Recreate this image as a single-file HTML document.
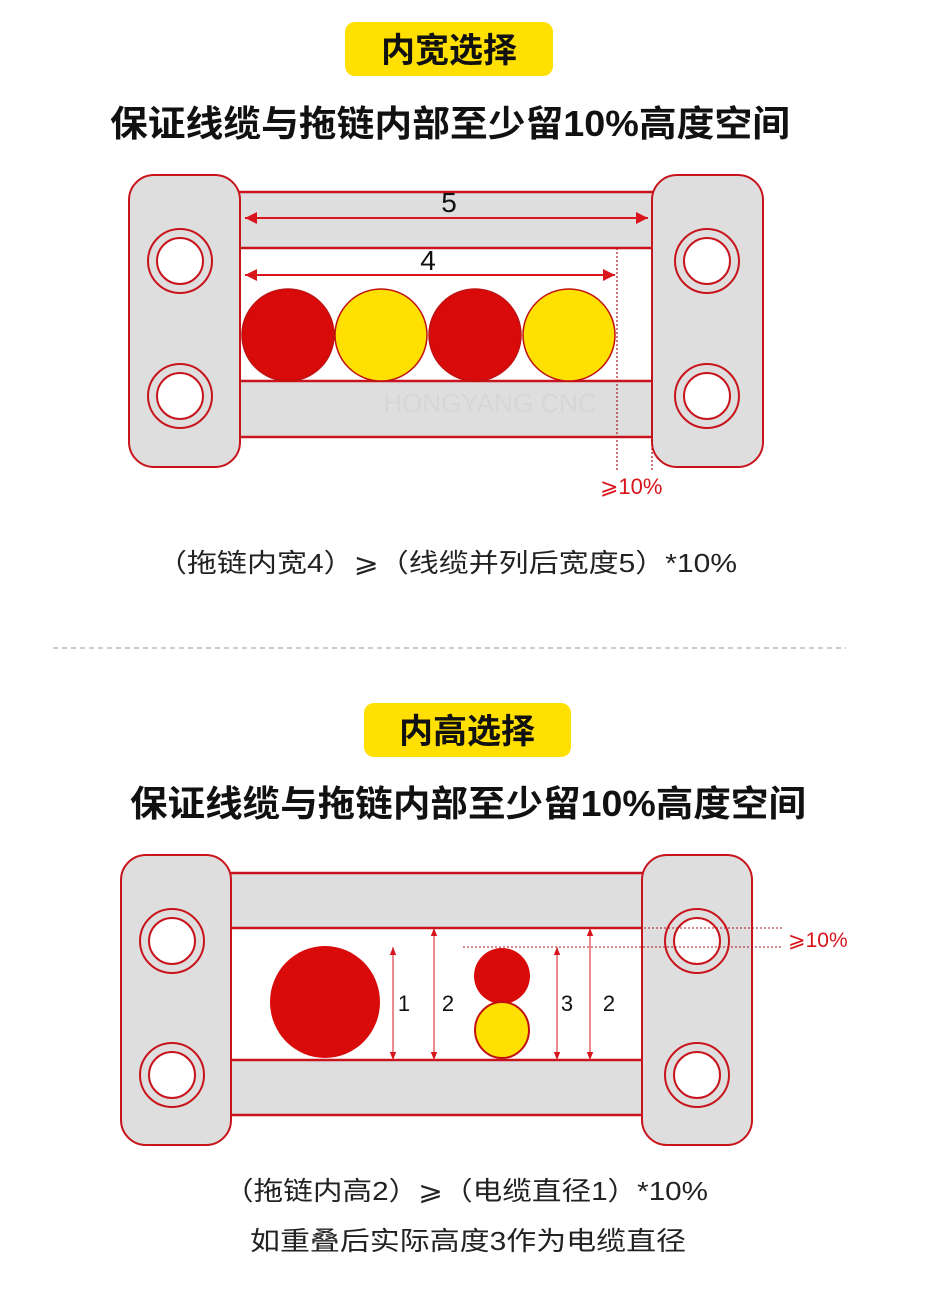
<!DOCTYPE html>
<html><head><meta charset="utf-8"><style>
html,body{margin:0;padding:0;background:#fff;}
svg{display:block;}
text{font-family:"Liberation Sans","Noto Sans CJK SC",sans-serif;}
</style></head><body>
<svg width="946" height="1305" viewBox="0 0 946 1305" xmlns="http://www.w3.org/2000/svg">
<defs>
<marker id="ar" viewBox="0 0 10 10" refX="10" refY="5" markerWidth="8" markerHeight="8" orient="auto-start-reverse" markerUnits="userSpaceOnUse"><path d="M0,1 L10,5 L0,9 z" fill="#d9141c"/></marker>
<marker id="ar2" viewBox="0 0 10 10" refX="10" refY="5" markerWidth="16" markerHeight="12" orient="auto-start-reverse" markerUnits="userSpaceOnUse"><path d="M0,0 L10,5 L0,10 z" fill="#d9141c"/></marker>
<g id="hole"><circle r="32" fill="#dedede" stroke="#c8141c" stroke-width="2"/><circle r="23" fill="#fff" stroke="#c8141c" stroke-width="2"/></g>
</defs>

<!-- Section 1 -->
<rect x="345" y="22" width="208" height="54" rx="10" fill="#ffe000"/>
<text x="449" y="62" font-size="34" font-weight="bold" text-anchor="middle" fill="#111">内宽选择</text>
<text x="110" y="136" font-size="36" font-weight="bold" fill="#111" textLength="680" lengthAdjust="spacingAndGlyphs">保证线缆与拖链内部至少留10%高度空间</text>

<rect x="230" y="192" width="432" height="56" fill="#dedede" stroke="#c8141c" stroke-width="2.5"/>
<rect x="230" y="381" width="432" height="56" fill="#dedede" stroke="#c8141c" stroke-width="2.5"/>
<rect x="129" y="175" width="111" height="292" rx="25" fill="#dedede" stroke="#c8141c" stroke-width="2"/>
<rect x="652" y="175" width="111" height="292" rx="25" fill="#dedede" stroke="#c8141c" stroke-width="2"/>
<use href="#hole" x="180" y="261"/><use href="#hole" x="180" y="396"/>
<use href="#hole" x="707" y="261"/><use href="#hole" x="707" y="396"/>

<line x1="245" y1="218" x2="648" y2="218" stroke="#d9141c" stroke-width="2" marker-start="url(#ar2)" marker-end="url(#ar2)"/>
<text x="449" y="212" font-size="28" text-anchor="middle" fill="#111">5</text>
<line x1="245" y1="275" x2="615" y2="275" stroke="#d9141c" stroke-width="2" marker-start="url(#ar2)" marker-end="url(#ar2)"/>
<text x="428" y="270" font-size="28" text-anchor="middle" fill="#111">4</text>

<ellipse cx="288" cy="335" rx="46" ry="46" fill="#d90a0a" stroke="#c01010" stroke-width="1.5"/>
<ellipse cx="381" cy="335" rx="46" ry="46" fill="#ffe000" stroke="#c01010" stroke-width="1.5"/>
<ellipse cx="475" cy="335" rx="46" ry="46" fill="#d90a0a" stroke="#c01010" stroke-width="1.5"/>
<ellipse cx="569" cy="335" rx="46" ry="46" fill="#ffe000" stroke="#c01010" stroke-width="1.5"/>
<line x1="617" y1="248" x2="617" y2="470" stroke="#b0141c" stroke-width="1.2" stroke-dasharray="2,2"/>
<line x1="652" y1="248" x2="652" y2="470" stroke="#b0141c" stroke-width="1.2" stroke-dasharray="2,2"/>
<text x="600" y="494" font-size="22" fill="#d9141c">⩾10%</text>
<text x="490" y="412" font-size="26" fill="#ccc" opacity="0.4" text-anchor="middle">HONGYANG CNC</text>

<text x="447" y="572" font-size="26" text-anchor="middle" fill="#222" textLength="580" lengthAdjust="spacingAndGlyphs">（拖链内宽4）⩾（线缆并列后宽度5）*10%</text>

<line x1="53" y1="648" x2="846" y2="648" stroke="#999" stroke-width="1" stroke-dasharray="5,4"/>

<!-- Section 2 -->
<rect x="364" y="703" width="207" height="54" rx="10" fill="#ffe000"/>
<text x="467" y="743" font-size="34" font-weight="bold" text-anchor="middle" fill="#111">内高选择</text>
<text x="130" y="816" font-size="36" font-weight="bold" fill="#111" textLength="676" lengthAdjust="spacingAndGlyphs">保证线缆与拖链内部至少留10%高度空间</text>

<rect x="222" y="873" width="430" height="55" fill="#dedede" stroke="#c8141c" stroke-width="2.5"/>
<rect x="222" y="1060" width="430" height="55" fill="#dedede" stroke="#c8141c" stroke-width="2.5"/>
<rect x="121" y="855" width="110" height="290" rx="25" fill="#dedede" stroke="#c8141c" stroke-width="2"/>
<rect x="642" y="855" width="110" height="290" rx="25" fill="#dedede" stroke="#c8141c" stroke-width="2"/>
<use href="#hole" x="172" y="941"/><use href="#hole" x="172" y="1075"/>
<use href="#hole" x="697" y="941"/><use href="#hole" x="697" y="1075"/>

<ellipse cx="325" cy="1002" rx="55" ry="56" fill="#d90a0a"/>
<ellipse cx="502" cy="976" rx="28" ry="28" fill="#d90a0a"/>
<ellipse cx="502" cy="1030" rx="27" ry="28" fill="#ffe000" stroke="#c01010" stroke-width="2"/>

<line x1="393" y1="947" x2="393" y2="1060" stroke="#d9141c" stroke-width="1" marker-start="url(#ar)" marker-end="url(#ar)"/>
<line x1="434" y1="928" x2="434" y2="1060" stroke="#d9141c" stroke-width="1" marker-start="url(#ar)" marker-end="url(#ar)"/>
<line x1="557" y1="947" x2="557" y2="1060" stroke="#d9141c" stroke-width="1" marker-start="url(#ar)" marker-end="url(#ar)"/>
<line x1="590" y1="928" x2="590" y2="1060" stroke="#d9141c" stroke-width="1" marker-start="url(#ar)" marker-end="url(#ar)"/>
<text x="404" y="1011" font-size="22" text-anchor="middle" fill="#111">1</text>
<text x="448" y="1011" font-size="22" text-anchor="middle" fill="#111">2</text>
<text x="567" y="1011" font-size="22" text-anchor="middle" fill="#111">3</text>
<text x="609" y="1011" font-size="22" text-anchor="middle" fill="#111">2</text>
<line x1="640" y1="928" x2="782" y2="928" stroke="#b0141c" stroke-width="1" stroke-dasharray="2,2"/>
<line x1="463" y1="947" x2="782" y2="947" stroke="#b0141c" stroke-width="1" stroke-dasharray="2,2"/>
<text x="788" y="947" font-size="21" fill="#d9141c">⩾10%</text>

<text x="466" y="1200" font-size="26" text-anchor="middle" fill="#222" textLength="484" lengthAdjust="spacingAndGlyphs">（拖链内高2）⩾（电缆直径1）*10%</text>
<text x="468" y="1250" font-size="26" text-anchor="middle" fill="#222" textLength="436" lengthAdjust="spacingAndGlyphs">如重叠后实际高度3作为电缆直径</text>
</svg>
</body></html>
